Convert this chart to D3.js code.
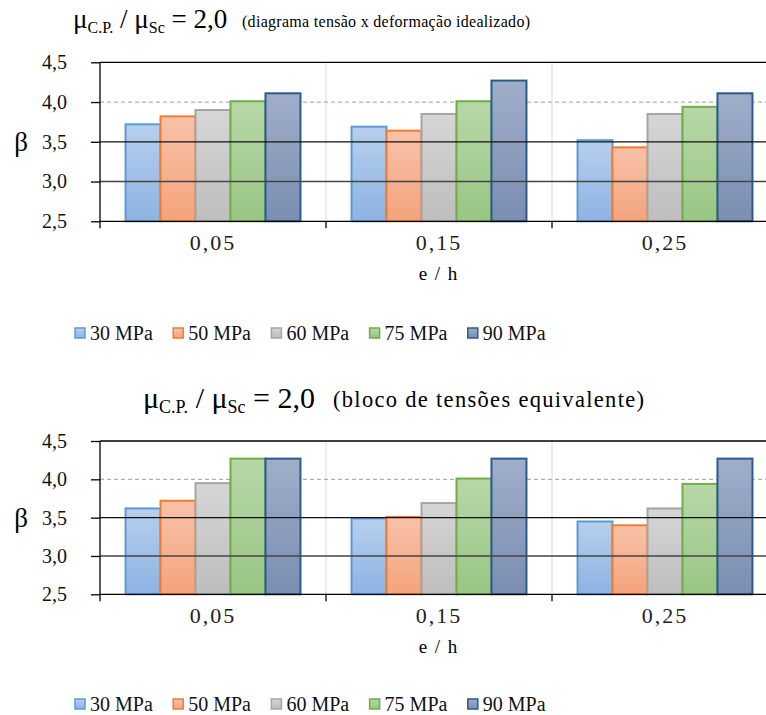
<!DOCTYPE html>
<html>
<head>
<meta charset="utf-8">
<script src="https://cdn.jsdelivr.net/npm/d3@7"></script>
<style>
  body { margin: 0; background: #fff; }
  svg, svg text { font-family: "Liberation Serif", Tinos, "Times New Roman", "DejaVu Serif", serif; }
</style>
</head>
<body>
<svg id="chart" width="766" height="715"></svg>
<script>
// e/h categories
const categories = ["0,05", "0,15", "0,25"];
const series = ["30 MPa", "50 MPa", "60 MPa", "75 MPa", "90 MPa"];
// beta per category, one entry per series
const betaIdealizado = [
    [3.72, 3.82, 3.90, 4.01, 4.11],
    [3.69, 3.64, 3.85, 4.01, 4.27],
    [3.52, 3.43, 3.85, 3.94, 4.11]
];
const betaBloco = [
    [3.62, 3.72, 3.95, 4.27, 4.27],
    [3.49, 3.51, 3.69, 4.01, 4.27],
    [3.45, 3.40, 3.62, 3.94, 4.27]
];
const yTicks = [2.5, 3.0, 3.5, 4.0, 4.5];

const fills = [["#b7cfed", "#8cb3e2"], ["#f8c2a9", "#f4a37c"], ["#d6d6d6", "#bdbdbd"], ["#b8d7a8", "#99c683"], ["#a0aec8", "#7a8eb2"]];
const strokes = ["#5b9bd5", "#ed7d31", "#a5a5a5", "#70ad47", "#2a5b8c"];

let svg = d3.select("#chart");
let defs = svg.append("defs");
fills.forEach((f, i) => {
    let grad = defs.append("linearGradient").attr("id", "grad" + i)
        .attr("x1", 0).attr("y1", 0).attr("x2", 0).attr("y2", 1);
    grad.append("stop").attr("offset", "0%").attr("stop-color", f[0]);
    grad.append("stop").attr("offset", "100%").attr("stop-color", f[1]);
});

function fmt(v){
    return d3.format(".1f")(v).replace(".", ",");
}

function drawTitle(x, y, big, small, note){
    let t = svg.append("text").attr("x", x).attr("y", y).attr("fill", "#000");
    t.append("tspan").attr("font-size", big).text("μ");
    t.append("tspan").attr("font-size", small).attr("dy", 5).text("C.P.");
    t.append("tspan").attr("font-size", big).attr("dy", -5).text(" / μ");
    t.append("tspan").attr("font-size", small).attr("dy", 5).text("Sc");
    t.append("tspan").attr("font-size", big).attr("dy", -5).text(" = 2,0");
    svg.append("text").attr("x", note.x).attr("y", y - 1)
        .attr("font-size", note.size).attr("textLength", note.len).attr("lengthAdjust", "spacing")
        .text(note.text);
}

function drawChart(data, top, bottom, xLabelY, legendY){
    let left = 100, right = 778;

    let x0 = d3.scaleBand().domain(categories).range([left, right]).padding(0);
    let x1 = d3.scaleBand().domain(series).range([0, x0.bandwidth()]).paddingInner(0).paddingOuter(0.73);
    let y = d3.scaleLinear().domain([2.5, 4.5]).range([bottom, top]);

    let g = svg.append("g");

    // vertical category separators
    g.selectAll(".sep").data(categories.slice(1)).enter().append("line")
        .attr("x1", d => x0(d)).attr("x2", d => x0(d))
        .attr("y1", top).attr("y2", bottom)
        .attr("stroke", "#d9d9d9").attr("stroke-width", 1);

    // dashed 4,0 line behind bars
    g.append("line").attr("x1", left).attr("x2", right)
        .attr("y1", y(4.0)).attr("y2", y(4.0))
        .attr("stroke", "#b0b0b0").attr("stroke-width", 1.2).attr("stroke-dasharray", "4,3");

    // bars
    categories.forEach((cat, ci) => {
        g.selectAll(".bar" + ci).data(data[ci]).enter().append("rect")
            .attr("x", (d, i) => x0(cat) + x1(series[i]))
            .attr("y", d => y(d))
            .attr("width", x1.bandwidth())
            .attr("height", d => y(2.5) - y(d))
            .attr("fill", (d, i) => "url(#grad" + i + ")")
            .attr("stroke", (d, i) => strokes[i])
            .attr("stroke-width", 2);
    });

    // solid gridlines over bars
    let solid = [{v: 4.5, c: "#000", w: 1.3}, {v: 3.5, c: "#111", w: 1.2}, {v: 3.0, c: "#444", w: 1.6}];
    g.selectAll(".grid").data(solid).enter().append("line")
        .attr("x1", left).attr("x2", right)
        .attr("y1", d => y(d.v)).attr("y2", d => y(d.v))
        .attr("stroke", d => d.c).attr("stroke-width", d => d.w);

    // y axis
    let yAxis = d3.axisLeft(y).tickValues(yTicks).tickFormat(fmt).tickSize(9).tickPadding(24);
    let ya = g.append("g").attr("transform", "translate(" + left + ",0)").call(yAxis);
    ya.attr("font-family", null);
    ya.select(".domain").remove();
    ya.selectAll("line").attr("stroke", "#000").attr("stroke-width", 1.3);
    ya.selectAll("text").attr("font-size", 20).attr("fill", "#111");

    g.append("line").attr("x1", left).attr("x2", left).attr("y1", top).attr("y2", bottom + 7)
        .attr("stroke", "#000").attr("stroke-width", 1.3);

    // x axis line and boundary ticks
    g.append("line").attr("x1", left).attr("x2", right).attr("y1", bottom).attr("y2", bottom)
        .attr("stroke", "#000").attr("stroke-width", 1.3);
    g.selectAll(".xt").data(categories.slice(1)).enter().append("line")
        .attr("x1", d => x0(d)).attr("x2", d => x0(d))
        .attr("y1", bottom).attr("y2", bottom + 7)
        .attr("stroke", "#000").attr("stroke-width", 1.3);

    g.selectAll(".xl").data(categories).enter().append("text")
        .attr("x", d => x0(d) + x0.bandwidth() / 2)
        .attr("y", xLabelY)
        .attr("text-anchor", "middle")
        .attr("font-size", 22).attr("letter-spacing", 2).attr("fill", "#222")
        .text(d => d);

    g.append("text").attr("x", 438).attr("y", xLabelY + 30)
        .attr("text-anchor", "middle").attr("font-size", 19).attr("word-spacing", 3)
        .text("e / h");

    g.append("text").attr("x", 21).attr("y", y(3.5) + 9)
        .attr("text-anchor", "middle").attr("font-size", 27).text("β");

    // legend
    let leg = g.selectAll(".leg").data(series).enter().append("g")
        .attr("transform", (d, i) => "translate(" + (75 + i * 98.2) + "," + legendY + ")");
    leg.append("rect").attr("x", 0).attr("y", -12).attr("width", 10).attr("height", 10)
        .attr("fill", (d, i) => "url(#grad" + i + ")")
        .attr("stroke", (d, i) => strokes[i]).attr("stroke-width", 1.5);
    leg.append("text").attr("x", 15).attr("y", 0).attr("font-size", 20).attr("fill", "#111").text(d => d);
}

drawTitle(73, 28, 27, 16, {x: 242, size: 16, len: 288, text: "(diagrama  tensão x deformação  idealizado)"});
drawChart(betaIdealizado, 62.3, 221.3, 250, 340);

drawTitle(143, 408, 30, 18, {x: 333, size: 22.5, len: 311, text: "(bloco de tensões equivalente)"});
drawChart(betaBloco, 441, 594.3, 623, 711);
</script>
</body>
</html>
